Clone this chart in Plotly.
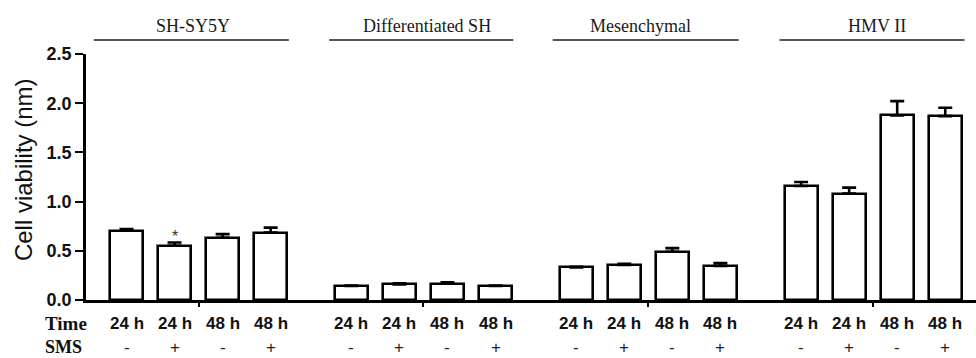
import plotly.graph_objects as go

# ---- data ----
groups = ["SH-SY5Y", "Differentiated SH", "Mesenchymal", "HMV II"]
time_labels = ["24 h", "24 h", "48 h", "48 h"]
sms_labels = ["-", "+", "-", "+"]
means = [
    [0.703, 0.551, 0.632, 0.686],
    [0.142, 0.159, 0.166, 0.142],
    [0.331, 0.355, 0.490, 0.345],
    [1.159, 1.082, 1.876, 1.869],
]
errors = [
    [0.018, 0.033, 0.037, 0.050],
    [0.006, 0.010, 0.013, 0.006],
    [0.006, 0.014, 0.037, 0.030],
    [0.040, 0.060, 0.145, 0.085],
]
y_ticks = [0.0, 0.5, 1.0, 1.5, 2.0, 2.5]
significant = [(0, 1)]  # (group, bar) with asterisk

# ---- layout helpers ----
GROUP_STEP = 4.68
xs, ys, es = [], [], []
for g in range(len(groups)):
    for i in range(4):
        xs.append(g * GROUP_STEP + i)
        ys.append(means[g][i])
        es.append(errors[g][i])

fig = go.Figure()
fig.add_trace(go.Bar(
    x=xs, y=ys, width=0.69,
    marker=dict(color="white", line=dict(color="black", width=2.6)),
    error_y=dict(type="data", array=es, arrayminus=[0] * len(es), symmetric=False,
                 color="black", thickness=2.6, width=7),
    showlegend=False, hoverinfo="skip",
))

annotations = []
shapes = []
head_start = [-0.68, -0.46, -0.49, -0.45]
head_end = [3.38, 3.37, 3.38, 3.40]
head_text = [1.39, 1.58, 1.34, 1.58]
for g, name in enumerate(groups):
    x0 = g * GROUP_STEP
    shapes.append(dict(type="line", xref="x", yref="paper",
                       x0=x0 + head_start[g], x1=x0 + head_end[g], y0=1.057, y1=1.057,
                       line=dict(color="#555555", width=1.8)))
    annotations.append(dict(xref="x", yref="paper", x=x0 + head_text[g], y=1.112,
                            text=name, showarrow=False, xanchor="center", yanchor="middle",
                            font=dict(family="Liberation Serif", size=18, color="#1a1a1a")))
    for i in range(4):
        annotations.append(dict(xref="x", yref="paper", x=x0 + i, y=-0.094,
                                text="<b>%s</b>" % time_labels[i], showarrow=False,
                                xanchor="center", yanchor="middle",
                                font=dict(family="Liberation Sans", size=17, color="#111111")))
        annotations.append(dict(xref="x", yref="paper", x=x0 + i, y=-0.192,
                                text=sms_labels[i], showarrow=False,
                                xanchor="center", yanchor="middle",
                                font=dict(family="Liberation Sans", size=17, color="#222222")))

for (g, i) in significant:
    annotations.append(dict(xref="x", yref="y", x=g * GROUP_STEP + i,
                            y=means[g][i] + errors[g][i] + 0.06,
                            text="*", showarrow=False, xanchor="center", yanchor="middle",
                            font=dict(family="Liberation Sans", size=16, color="#333333")))

annotations.append(dict(xref="paper", yref="paper", x=-43 / 890, y=-0.094, text="<b>Time</b>",
                        showarrow=False, xanchor="left", yanchor="middle",
                        font=dict(family="Liberation Serif", size=19, color="#111111")))
annotations.append(dict(xref="paper", yref="paper", x=-43 / 890, y=-0.19, text="<b>SMS</b>",
                        showarrow=False, xanchor="left", yanchor="middle",
                        font=dict(family="Liberation Serif", size=18, color="#111111")))
annotations.append(dict(xref="paper", yref="paper", x=-63 / 890, y=0.528,
                        text="Cell viability (nm)", showarrow=False, textangle=-90,
                        xanchor="center", yanchor="middle",
                        font=dict(family="Liberation Sans", size=24, color="#111111")))

group_centers = [g * GROUP_STEP + 1.5 for g in range(len(groups))]

fig.update_layout(
    width=976, height=358,
    margin=dict(l=86, r=0, t=54, b=58),
    paper_bgcolor="white", plot_bgcolor="white",
    xaxis=dict(range=[-0.843, 17.68], showgrid=False, zeroline=False,
               showline=True, linecolor="black", linewidth=2.6,
               tickmode="array", tickvals=group_centers, ticks="outside",
               ticklen=4, tickwidth=2, tickcolor="black", showticklabels=False),
    yaxis=dict(range=[0, 2.5], showgrid=False, zeroline=False,
               showline=True, linecolor="black", linewidth=2.6,
               tickmode="array", tickvals=y_ticks,
               ticktext=["<b>%.1f</b>" % v for v in y_ticks],
               ticks="outside", ticklen=8, tickwidth=2.2, tickcolor="black",
               tickfont=dict(family="Liberation Sans", size=18, color="#111111")),
    annotations=annotations, shapes=shapes,
    bargap=0,
)

fig.write_html("out.html")
